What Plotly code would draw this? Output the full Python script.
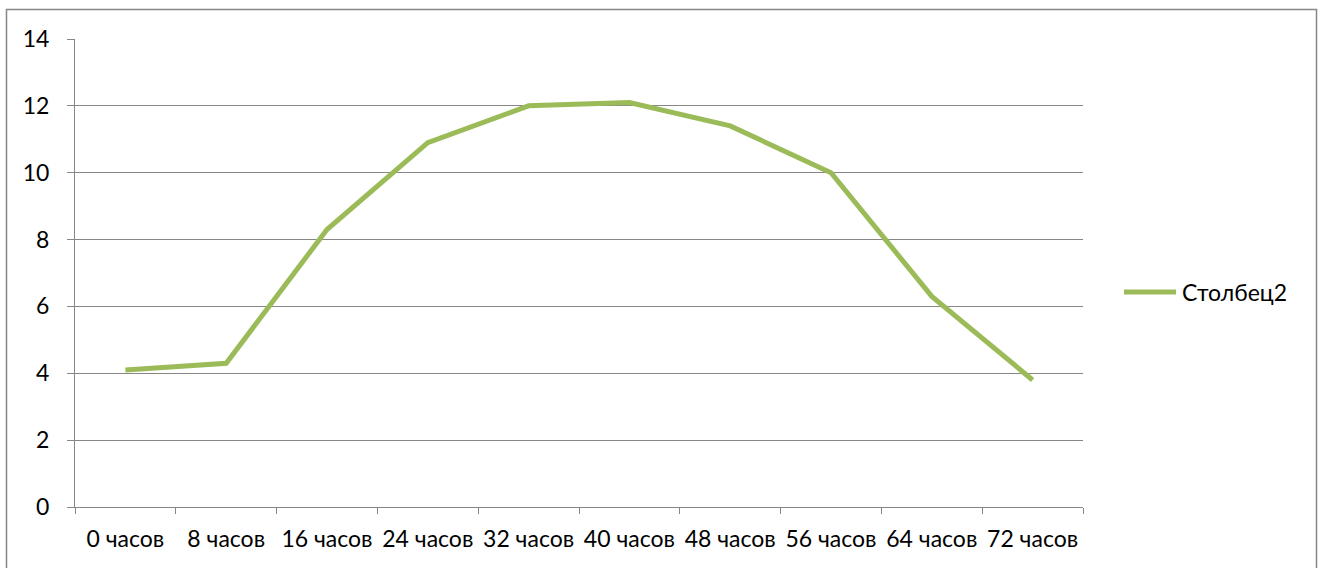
import plotly.graph_objects as go

# Data
categories = ["0 часов", "8 часов", "16 часов", "24 часов", "32 часов",
              "40 часов", "48 часов", "56 часов", "64 часов", "72 часов"]
values = [4.1, 4.3, 8.3, 10.9, 12.0, 12.1, 11.4, 10.0, 6.3, 3.8]
series_name = "Столбец2"
y_ticks = [0, 2, 4, 6, 8, 10, 12, 14]

W, H = 1319, 568
L, R, T, B = 75, 236, 39, 61
plot_w = W - L - R
plot_h = H - T - B

grid = "#868686"
green = "#9BBB59"
font = dict(family="Lato, Carlito, Calibri, sans-serif", size=23, color="#000000")


def px_x(p):
    return (p - L) / plot_w


def px_y(p):
    return (H - B - p) / plot_h


fig = go.Figure()
fig.add_trace(go.Scatter(
    x=categories, y=values, name=series_name, mode="lines",
    line=dict(color=green, width=5), showlegend=False,
))

fig.update_layout(
    width=W, height=H,
    margin=dict(l=L, r=R, t=T, b=B, autoexpand=False),
    paper_bgcolor="white", plot_bgcolor="white",
    font=font,
    xaxis=dict(
        type="category", range=[-0.5, len(categories) - 0.5],
        tickson="boundaries", ticks="outside", ticklen=6, tickcolor=grid,
        showline=True, linecolor=grid, linewidth=1, showgrid=False,
        tickfont=font, zeroline=False, ticklabelstandoff=11,
        tickangle=0, automargin=False,
    ),
    yaxis=dict(
        range=[0, 14], tickvals=y_ticks, ticks="outside", ticklen=7,
        tickcolor=grid, showline=True, linecolor=grid, linewidth=1,
        showgrid=True, gridcolor=grid, gridwidth=1, zeroline=False,
        tickfont=font, ticklabelstandoff=13, automargin=False,
    ),
    shapes=[
        # outer chart frame
        dict(type="rect", xref="paper", yref="paper",
             x0=px_x(6.5), x1=px_x(1316.5), y0=px_y(600), y1=px_y(9.5),
             line=dict(color=grid, width=1.5), fillcolor="rgba(0,0,0,0)", layer="below"),
        # legend key
        dict(type="line", xref="paper", yref="paper",
             x0=px_x(1124), x1=px_x(1176), y0=px_y(292), y1=px_y(292),
             line=dict(color=green, width=5)),
    ],
    annotations=[
        dict(text=series_name, xref="paper", yref="paper",
             x=px_x(1180), y=px_y(292), xanchor="left", yanchor="middle",
             showarrow=False, font=font),
    ],
)

fig.write_html("out.html")
